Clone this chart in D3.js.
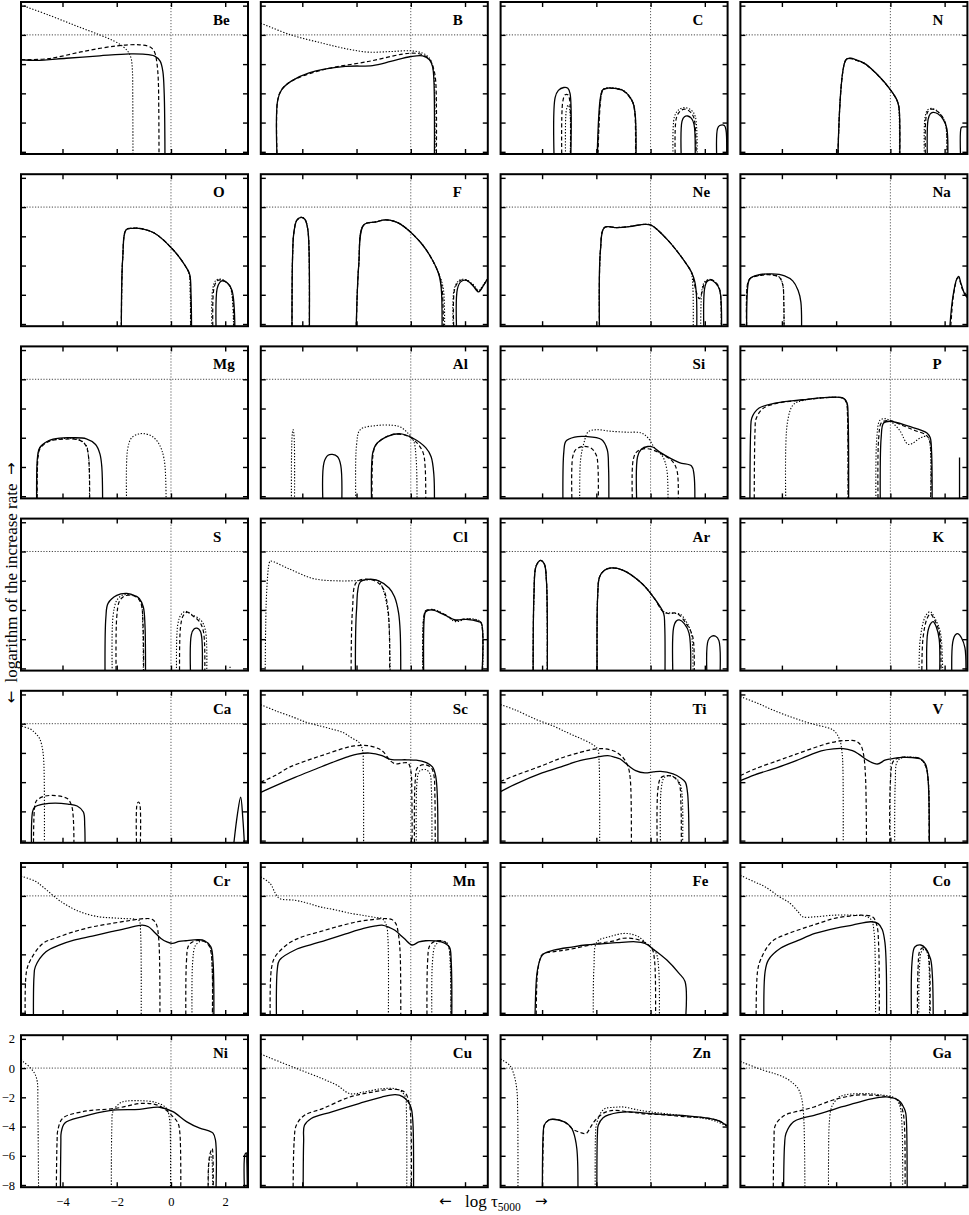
<!DOCTYPE html>
<html><head><meta charset="utf-8">
<script src="https://cdn.jsdelivr.net/npm/d3@7"></script>
<style>body{margin:0;background:#fff}svg{display:block}</style>
</head><body><svg id="c" width="969" height="1215"></svg>
<script>
const elements = ["Be","B","C","N","O","F","Ne","Na","Mg","Al","Si","P","S","Cl","Ar","K","Ca","Sc","Ti","V","Cr","Mn","Fe","Co","Ni","Cu","Zn","Ga"];
const xTicks = [-4,-2,0,2];
const yTicks = [2,0,-2,-4,-6,-8];
const xDomain = [-5.53, 2.84];
const yDomain = [-8.15, 2.25];

// solid curves: one entry per element, each a list of segments of [log tau, log rate]
const solidCurves = [
 [[[-5.53,-1.7],[-4.97,-1.75],[-3.86,-1.6],[-2.63,-1.43],[-1.53,-1.3],[-1.03,-1.32],[-0.6,-1.45],[-0.4,-1.8],[-0.3,-2.5],[-0.25,-4],[-0.23,-6],[-0.22,-9]]],
 [[[-4.92,-9],[-4.91,-4.5],[-4.76,-3.75],[-4.42,-3.18],[-3.75,-2.6],[-2.41,-2.16],[-1.41,-2.1],[-0.74,-1.82],[0,-1.48],[0.44,-1.43],[0.69,-1.7],[0.8,-2.16],[0.85,-3],[0.87,-9]]],
 [[[-3.55,-9],[-3.52,-4.3],[-3.4,-3.8],[-3.2,-3.6],[-3.05,-3.65],[-2.97,-4.0],[-2.95,-9]],
  [[-1.98,-9],[-1.85,-4.3],[-1.76,-3.75],[-1.6,-3.65],[-1.42,-3.64],[-1.0,-3.82],[-0.67,-4.55],[-0.57,-5.4],[-0.54,-9]],
  [[1.14,-9],[1.16,-5.9],[1.25,-5.6],[1.37,-5.55],[1.5,-5.7],[1.6,-6.1],[1.64,-9]],
  [[2.45,-9],[2.47,-6.4],[2.55,-6.2],[2.72,-6.2],[2.78,-6.5],[2.8,-9]]],
 [[[-1.94,-9],[-1.64,-1.7],[-1.45,-1.6],[-1.31,-1.68],[-0.97,-1.93],[-0.47,-2.73],[0,-3.75],[0.25,-4.5],[0.32,-5],[0.34,-9]],
  [[1.37,-9],[1.39,-5.8],[1.47,-5.4],[1.57,-5.3],[1.75,-5.4],[1.95,-5.8],[2.08,-6.4],[2.11,-9]],
  [[2.6,-9],[2.61,-6.35],[2.65,-6.3],[2.85,-6.3]]],
 [[[-1.83,-9],[-1.78,-3.5],[-1.65,-1.54],[-1.4,-1.45],[-1.19,-1.45],[-0.62,-1.77],[0.07,-2.9],[0.53,-4.03],[0.69,-4.6],[0.74,-6],[0.76,-9]],
  [[1.67,-9],[1.7,-5.6],[1.8,-5.15],[1.9,-5.04],[2.08,-5.2],[2.25,-5.7],[2.36,-9]]],
 [[[-4.38,-9],[-4.36,-3.5],[-4.31,-1.74],[-4.2,-0.9],[-4.04,-0.7],[-3.9,-0.85],[-3.8,-1.5],[-3.75,-3],[-3.74,-9]],
  [[-2.02,-9],[-1.92,-4],[-1.74,-1.24],[-1.3,-1.02],[-0.94,-0.88],[-0.6,-0.98],[-0.37,-1.18],[0.1,-1.9],[0.55,-2.87],[1.01,-4.46],[1.12,-5.5],[1.15,-9]],
  [[1.70,-9],[1.72,-5.6],[1.85,-5.1],[2.04,-5.0],[2.3,-5.4],[2.5,-5.8],[2.7,-5.3],[2.84,-4.9]]],
 [[[-1.88,-9],[-1.85,-3],[-1.7,-1.4],[-1.24,-1.4],[-0.78,-1.33],[-0.21,-1.18],[0.02,-1.24],[0.6,-2.19],[1.28,-3.78],[1.51,-4.46],[1.63,-5.1],[1.69,-6],[1.7,-9]],
  [[1.97,-9],[1.99,-5.6],[2.08,-5.1],[2.2,-4.98],[2.4,-5.2],[2.55,-5.7],[2.61,-9]]],
 [[[-5.3,-9],[-5.25,-5.3],[-5.18,-4.9],[-4.9,-4.65],[-4.38,-4.57],[-3.9,-4.7],[-3.6,-5.05],[-3.4,-5.7],[-3.3,-6.5],[-3.28,-9]],
  [[2.16,-9],[2.3,-6.2],[2.45,-4.9],[2.52,-4.75],[2.6,-5.2],[2.75,-6.0],[2.84,-6.2]]],
 [[[-4.95,-9],[-4.92,-5.3],[-4.84,-4.68],[-4.5,-4.19],[-4.1,-4.02],[-3.69,-4.0],[-3.12,-4.07],[-2.78,-4.46],[-2.62,-5.1],[-2.55,-6],[-2.52,-9]]],
 [[[-3.23,-9],[-3.2,-5.7],[-3.05,-5.2],[-2.89,-5.14],[-2.7,-5.3],[-2.58,-5.9],[-2.55,-9]],
  [[-1.44,-9],[-1.4,-5.0],[-1.28,-4.46],[-0.83,-3.89],[-0.37,-3.73],[0.05,-4.0],[0.55,-4.68],[0.75,-5.3],[0.85,-6.5],[0.87,-9]]],
 [[[-3.23,-9],[-3.2,-5.0],[-3.12,-4.23],[-2.8,-3.95],[-2.39,-3.91],[-1.81,-4.12],[-1.6,-4.8],[-1.55,-6],[-1.54,-9]],
  [[-0.5,-9],[-0.48,-5.3],[-0.35,-4.8],[-0.1,-4.6],[0.1,-4.65],[0.37,-5.02],[1.06,-5.7],[1.51,-5.93],[1.6,-6.5],[1.63,-9]]],
 [[[-5.18,-9],[-5.15,-3.5],[-5.11,-2.65],[-4.84,-1.97],[-4.2,-1.62],[-3.23,-1.4],[-2.32,-1.24],[-1.74,-1.29],[-1.6,-1.6],[-1.56,-2.5],[-1.54,-9]],
  [[-0.37,-9],[-0.34,-4],[-0.25,-2.99],[-0.02,-2.87],[0.67,-3.21],[1.35,-3.67],[1.47,-4.0],[1.52,-5],[1.54,-9]],
  [[2.55,-9],[2.55,-5.36]]],
 [[[-2.43,-9],[-2.4,-4.5],[-2.32,-3.55],[-2.0,-3.0],[-1.63,-2.87],[-1.3,-3.05],[-1.17,-3.21],[-1.02,-3.8],[-0.96,-5],[-0.94,-9]],
  [[0.73,-9],[0.75,-5.7],[0.85,-5.3],[0.96,-5.25],[1.08,-5.45],[1.14,-6],[1.15,-9]]],
 [[[-2.04,-9],[-2.0,-4],[-1.86,-2.08],[-1.51,-1.9],[-1.2,-2.0],[-0.8,-2.5],[-0.6,-3.1],[-0.45,-4.2],[-0.39,-5.5],[-0.37,-9]],
  [[0.48,-9],[0.5,-4.5],[0.55,-4.12],[0.78,-4.0],[1.24,-4.34],[1.65,-4.68],[2.04,-4.64],[2.5,-4.8],[2.6,-4.9],[2.61,-9]]],
 [[[-4.33,-9],[-4.3,-3],[-4.22,-1.0],[-4.06,-0.61],[-3.92,-0.85],[-3.84,-2],[-3.81,-9]],
  [[-1.97,-9],[-1.95,-3],[-1.88,-1.74],[-1.7,-1.29],[-1.47,-1.13],[-1.01,-1.29],[-0.32,-2.19],[0.14,-3.21],[0.48,-4.23],[0.52,-5],[0.53,-9]],
  [[0.83,-9],[0.85,-5.2],[0.95,-4.75],[1.06,-4.68],[1.25,-4.95],[1.42,-5.6],[1.47,-9]],
  [[2.09,-9],[2.12,-6.1],[2.25,-5.8],[2.4,-5.8],[2.52,-6.1],[2.55,-9]]],
 [[[1.35,-9],[1.38,-5.5],[1.5,-4.9],[1.58,-4.8],[1.7,-5.2],[1.8,-6],[1.81,-9]],
  [[2.27,-9],[2.3,-6.2],[2.4,-5.7],[2.5,-5.63],[2.62,-5.9],[2.75,-6.6],[2.78,-9]]],
 [[[-5.14,-9],[-5.1,-6],[-5.02,-5.7],[-4.7,-5.5],[-4.27,-5.43],[-3.8,-5.5],[-3.46,-5.63],[-3.23,-6.04],[-3.18,-7],[-3.17,-9]],
  [[2.27,-9],[2.45,-6.2],[2.57,-5.02],[2.65,-6.5],[2.73,-9]]],
 [[[-5.53,-4.7],[-5.0,-4.25],[-4.27,-3.67],[-3.5,-3.1],[-2.89,-2.65],[-2.3,-2.25],[-1.97,-2.08],[-1.51,-2.01],[-1.06,-2.19],[-0.75,-2.45],[-0.5,-2.47],[-0.14,-2.47],[0.2,-2.5],[0.55,-2.65],[0.8,-2.95],[0.92,-3.6],[0.98,-5],[1.0,-9]]],
 [[[-5.53,-4.65],[-5.0,-4.15],[-4.0,-3.37],[-3.3,-2.95],[-2.61,-2.53],[-2.0,-2.3],[-1.58,-2.19],[-1.3,-2.3],[-1.12,-2.42],[-0.8,-2.9],[-0.55,-3.21],[-0.21,-3.37],[0.1,-3.3],[0.37,-3.26],[0.83,-3.44],[1.1,-3.7],[1.28,-4.0],[1.36,-4.68],[1.4,-6],[1.42,-9]]],
 [[[-5.53,-3.9],[-5.0,-3.5],[-4.15,-2.99],[-3.3,-2.4],[-2.55,-1.86],[-2.1,-1.72],[-1.74,-1.7],[-1.4,-1.85],[-1.17,-2.08],[-0.8,-2.55],[-0.48,-2.76],[-0.2,-2.5],[-0.02,-2.42],[0.44,-2.31],[0.8,-2.32],[1.12,-2.42],[1.3,-2.8],[1.38,-3.6],[1.42,-5],[1.44,-9]]],
 [[[-5.07,-9],[-5.05,-5.5],[-5.0,-4.84],[-4.61,-3.82],[-4.1,-3.35],[-3.58,-3.02],[-2.9,-2.75],[-2.2,-2.45],[-1.6,-2.2],[-1.06,-2.0],[-0.83,-2.11],[-0.6,-2.5],[-0.37,-2.91],[-0.15,-3.15],[0.05,-3.25],[0.3,-3.12],[0.55,-3.07],[1.0,-3.0],[1.24,-3.07],[1.47,-3.48],[1.55,-4.5],[1.58,-9]]],
 [[[-4.95,-9],[-4.92,-5],[-4.84,-4.39],[-4.27,-3.7],[-3.7,-3.35],[-3.12,-3.02],[-2.4,-2.6],[-1.74,-2.23],[-1.3,-2.05],[-1.06,-2.0],[-0.8,-2.15],[-0.6,-2.34],[-0.25,-2.9],[0.05,-3.36],[0.3,-3.15],[0.55,-3.07],[0.9,-3.08],[1.12,-3.14],[1.42,-3.48],[1.49,-4.5],[1.51,-9]]],
 [[[-4.27,-9],[-4.22,-6],[-4.17,-5.07],[-3.99,-4.05],[-3.53,-3.7],[-2.9,-3.5],[-2.39,-3.36],[-1.8,-3.28],[-1.24,-3.2],[-0.55,-3.14],[-0.21,-3.25],[0.14,-3.7],[0.6,-4.39],[1.05,-5.3],[1.27,-5.86],[1.27,-9]]],
 [[[-4.66,-9],[-4.62,-5.2],[-4.5,-4.39],[-4.04,-3.57],[-3.4,-3.05],[-2.78,-2.57],[-2.0,-2.2],[-1.4,-2.0],[-0.71,-1.77],[-0.45,-1.9],[-0.3,-2.3],[-0.2,-3.2],[-0.15,-5],[-0.14,-9]],
  [[0.78,-9],[0.8,-4.5],[0.9,-3.5],[1.12,-3.36],[1.3,-3.6],[1.48,-4.3],[1.55,-5.5],[1.58,-9]]],
 [[[-4.08,-9],[-4.06,-5],[-4.05,-4.45],[-3.92,-3.77],[-3.25,-3.32],[-2.26,-2.91],[-1.16,-2.82],[-0.42,-2.68],[0.07,-2.98],[0.57,-3.66],[1.06,-4.11],[1.4,-4.3],[1.55,-4.45],[1.64,-4.91],[1.65,-9]],
  [[2.72,-9],[2.73,-5.9],[2.78,-5.8],[2.8,-6.5],[2.82,-9]]],
 [[[-3.97,-9],[-3.95,-5],[-3.92,-3.91],[-3.67,-3.45],[-2.91,-3.0],[-1.91,-2.43],[-1.07,-1.98],[-0.57,-1.82],[-0.3,-1.95],[-0.1,-2.3],[0.02,-2.77],[0.08,-3.8],[0.1,-9]]],
 [[[-3.99,-9],[-3.96,-4.5],[-3.92,-3.91],[-3.75,-3.55],[-3.6,-3.5],[-3.18,-3.68],[-2.95,-4.0],[-2.85,-4.36],[-2.72,-5.5],[-2.68,-9]],
  [[-1.98,-9],[-1.96,-4.5],[-1.93,-3.91],[-1.75,-3.4],[-1.51,-3.18],[-1.2,-3.05],[-0.84,-3.0],[0,-3.11],[0.7,-3.2],[1.34,-3.27],[2.18,-3.45],[2.5,-3.6],[2.84,-3.98]]],
 [[[-3.94,-9],[-3.9,-5.2],[-3.85,-4.48],[-3.57,-3.68],[-3.2,-3.4],[-2.81,-3.23],[-2.3,-2.95],[-1.81,-2.66],[-1.3,-2.4],[-0.8,-2.14],[-0.3,-1.98],[-0.05,-1.98],[0.2,-2.1],[0.37,-2.32],[0.52,-2.8],[0.57,-3.11],[0.6,-4],[0.62,-9]]]
];

const dashedCurves = [
 [[[-5.53,-1.7],[-4.5,-1.62],[-3.25,-1.14],[-2.0,-0.75],[-1.16,-0.68],[-0.75,-0.85],[-0.6,-1.2],[-0.52,-1.9],[-0.47,-3],[-0.45,-5],[-0.44,-9]]],
 [[[-4.92,-9],[-4.91,-4.5],[-4.76,-3.75],[-4.42,-3.18],[-3.25,-2.39],[-1.57,-1.82],[0,-1.25],[0.44,-1.36],[0.7,-1.7],[0.84,-2.3],[0.92,-3.2],[0.94,-9]]],
 [[[-3.27,-9],[-3.24,-4.6],[-3.15,-4.1],[-3.05,-4.1],[-2.98,-4.5],[-2.96,-9]],
  [[-1.95,-9],[-1.83,-4.3],[-1.74,-3.75],[-1.42,-3.66],[-1.0,-3.84],[-0.67,-4.58],[-0.58,-5.4],[-0.56,-9]],
  [[0.92,-9],[0.95,-5.7],[1.1,-5.2],[1.26,-5.08],[1.45,-5.25],[1.6,-5.7],[1.68,-9]]],
 [[[-1.94,-9],[-1.64,-1.72],[-1.45,-1.62],[-1.31,-1.7],[-0.97,-1.95],[-0.47,-2.75],[0,-3.77],[0.25,-4.5],[0.32,-5],[0.34,-9]],
  [[1.3,-9],[1.32,-5.6],[1.42,-5.15],[1.55,-5.08],[1.75,-5.25],[1.95,-5.7],[2.06,-6.3],[2.09,-9]]],
 [[[-1.83,-9],[-1.78,-3.5],[-1.65,-1.54],[-1.4,-1.45],[-1.19,-1.45],[-0.62,-1.77],[0.07,-2.9],[0.53,-4.03],[0.68,-4.6],[0.72,-6],[0.73,-9]],
  [[1.55,-9],[1.58,-5.6],[1.7,-5.05],[1.85,-4.98],[2.05,-5.15],[2.22,-5.6],[2.33,-9]]],
 [[[-4.38,-9],[-4.36,-3.5],[-4.31,-1.74],[-4.2,-0.9],[-4.04,-0.7],[-3.9,-0.85],[-3.8,-1.5],[-3.75,-3],[-3.74,-9]],
  [[-2.02,-9],[-1.92,-4],[-1.74,-1.24],[-1.3,-1.02],[-0.94,-0.88],[-0.6,-0.98],[-0.37,-1.18],[0.1,-1.9],[0.55,-2.87],[1.01,-4.46],[1.15,-5.5],[1.2,-9]],
  [[1.6,-9],[1.62,-5.6],[1.8,-5.05],[2.0,-4.98],[2.3,-5.35],[2.5,-5.75],[2.7,-5.3],[2.84,-4.9]]],
 [[[-1.88,-9],[-1.85,-3],[-1.7,-1.4],[-1.24,-1.4],[-0.78,-1.33],[-0.21,-1.18],[0.02,-1.24],[0.6,-2.19],[1.28,-3.78],[1.51,-4.46],[1.62,-5.3],[1.72,-6.0],[1.8,-6.27],[1.9,-5.8],[1.97,-5.3],[2.1,-5.0],[2.2,-4.95],[2.4,-5.15],[2.55,-5.65],[2.6,-9]]],
 [[[-5.29,-9],[-5.26,-5.2],[-5.15,-4.85],[-4.8,-4.68],[-4.5,-4.62],[-4.1,-4.8],[-3.97,-5.3],[-3.93,-6.5],[-3.92,-9]],
  [[2.2,-9],[2.33,-6.0],[2.48,-4.85],[2.55,-5.0],[2.65,-5.6],[2.84,-6.1]]],
 [[[-4.93,-9],[-4.9,-5.3],[-4.82,-4.72],[-4.5,-4.25],[-4.0,-4.1],[-3.4,-4.15],[-3.15,-4.5],[-3.04,-5.3],[-3.0,-9]]],
 [[[-1.42,-9],[-1.38,-5.0],[-1.25,-4.4],[-0.8,-3.85],[-0.45,-3.75],[-0.1,-3.9],[0.2,-4.3],[0.45,-5.0],[0.53,-6],[0.55,-9]]],
 [[[-2.89,-9],[-2.87,-5.3],[-2.75,-4.8],[-2.5,-4.6],[-2.2,-4.7],[-2.0,-5.2],[-1.94,-6],[-1.93,-9]],
  [[-0.66,-9],[-0.64,-5.5],[-0.5,-4.95],[-0.2,-4.75],[0.1,-4.85],[0.4,-5.1],[0.8,-5.6],[0.98,-6.3],[1.01,-9]]],
 [[[-5.02,-9],[-4.99,-3.5],[-4.95,-2.7],[-4.7,-2.0],[-4.2,-1.65],[-3.23,-1.42],[-2.32,-1.25],[-1.74,-1.3],[-1.62,-1.6],[-1.58,-2.5],[-1.56,-9]],
  [[-0.45,-9],[-0.43,-4],[-0.32,-2.95],[-0.02,-2.83],[0.5,-3.2],[0.9,-3.5],[1.3,-3.8],[1.45,-4.2],[1.47,-9]]],
 [[[-2.02,-9],[-2.0,-4.5],[-1.9,-3.4],[-1.72,-3.05],[-1.51,-2.99],[-1.25,-3.15],[-1.1,-3.6],[-1.03,-5],[-1.01,-9]],
  [[0.32,-9],[0.35,-5.2],[0.45,-4.4],[0.6,-4.15],[0.8,-4.4],[1.05,-4.8],[1.2,-5.5],[1.24,-9]]],
 [[[-2.2,-9],[-2.15,-4],[-2.0,-2.1],[-1.55,-1.9],[-1.2,-2.15],[-1.0,-2.6],[-0.85,-3.8],[-0.79,-5.5],[-0.78,-9]],
  [[0.46,-9],[0.48,-4.5],[0.55,-4.05],[0.78,-3.98],[1.24,-4.3],[1.65,-4.72],[2.04,-4.6],[2.5,-4.75],[2.6,-4.9],[2.62,-9]]],
 [[[-4.33,-9],[-4.3,-3],[-4.22,-1.0],[-4.06,-0.61],[-3.92,-0.85],[-3.84,-2],[-3.81,-9]],
  [[-1.97,-9],[-1.95,-3],[-1.88,-1.74],[-1.7,-1.29],[-1.47,-1.13],[-1.01,-1.29],[-0.32,-2.19],[0.14,-3.21],[0.48,-4.15],[0.7,-4.25],[0.9,-4.2],[1.06,-4.35],[1.3,-4.9],[1.55,-5.8],[1.6,-9]]],
 [[[1.16,-9],[1.2,-6.0],[1.35,-4.6],[1.47,-4.28],[1.65,-4.75],[1.82,-5.7],[1.86,-9]]],
 [[[-5.07,-9],[-5.02,-5.6],[-4.95,-5.25],[-4.7,-4.98],[-4.38,-4.91],[-4.0,-5.0],[-3.81,-5.14],[-3.65,-5.7],[-3.58,-9]],
  [[-1.26,-9],[-1.25,-5.5],[-1.2,-5.36],[-1.15,-5.5],[-1.14,-9]]],
 [[[-5.53,-4.0],[-5.0,-3.55],[-4.5,-3.0],[-3.8,-2.5],[-3.12,-2.08],[-2.5,-1.7],[-2.09,-1.52],[-1.6,-1.5],[-1.2,-1.7],[-1.0,-1.95],[-0.75,-2.55],[-0.55,-2.75],[-0.3,-2.68],[-0.1,-2.7],[0.0,-3.2],[0.04,-5],[0.05,-9]],
  [[0.14,-9],[0.16,-4],[0.25,-3.0],[0.5,-2.8],[0.75,-3.0],[0.85,-3.5],[0.89,-5],[0.9,-9]]],
 [[[-5.53,-3.95],[-5.0,-3.55],[-4.0,-2.87],[-3.3,-2.35],[-2.61,-1.97],[-2.2,-1.78],[-1.81,-1.7],[-1.5,-1.78],[-1.24,-1.97],[-0.98,-2.4],[-0.82,-3.0],[-0.74,-4],[-0.71,-9]],
  [[0.25,-9],[0.27,-4.5],[0.38,-3.7],[0.6,-3.55],[0.85,-3.65],[1.05,-4.1],[1.12,-5.5],[1.13,-9]]],
 [[[-5.53,-3.55],[-5.0,-3.1],[-4.15,-2.53],[-3.5,-2.1],[-2.78,-1.63],[-2.3,-1.35],[-1.86,-1.18],[-1.5,-1.15],[-1.28,-1.18],[-1.1,-1.45],[-1.0,-2.0],[-0.92,-3.5],[-0.88,-9]],
  [[-0.02,-9],[0.0,-4],[0.1,-2.6],[0.32,-2.33],[0.8,-2.3],[1.1,-2.4],[1.3,-2.9],[1.4,-4],[1.42,-9]]],
 [[[-5.37,-9],[-5.33,-5.2],[-5.18,-4.39],[-4.72,-3.25],[-4.2,-2.85],[-3.58,-2.45],[-2.9,-2.12],[-2.2,-1.89],[-1.5,-1.68],[-0.94,-1.55],[-0.7,-1.6],[-0.55,-1.9],[-0.45,-3],[-0.41,-9]],
  [[0.55,-9],[0.57,-4.5],[0.65,-3.4],[0.85,-3.1],[1.2,-3.1],[1.4,-3.4],[1.5,-4.2],[1.52,-9]]],
 [[[-5.18,-9],[-5.14,-5],[-5.0,-4.16],[-4.5,-3.25],[-4.0,-2.8],[-3.35,-2.45],[-2.6,-2.05],[-1.97,-1.77],[-1.4,-1.62],[-0.94,-1.55],[-0.7,-1.62],[-0.55,-1.9],[-0.45,-2.7],[-0.39,-4],[-0.37,-9]],
  [[0.6,-9],[0.62,-4.5],[0.7,-3.4],[0.9,-3.1],[1.2,-3.1],[1.38,-3.4],[1.46,-4.2],[1.48,-9]]],
 [[[-4.22,-9],[-4.18,-5.5],[-4.1,-4.5],[-3.99,-4.0],[-3.5,-3.8],[-3.05,-3.68],[-1.93,-3.25],[-1.4,-3.1],[-1.0,-2.9],[-0.55,-2.95],[-0.2,-3.2],[0.05,-3.6],[0.15,-4.5],[0.18,-9]]],
 [[[-4.95,-9],[-4.9,-5.2],[-4.79,-4.39],[-4.38,-3.14],[-3.8,-2.6],[-3.23,-2.23],[-2.6,-1.85],[-2.09,-1.55],[-1.5,-1.38],[-1.06,-1.32],[-0.65,-1.45],[-0.5,-2.0],[-0.43,-3.5],[-0.41,-9]],
  [[1.0,-9],[1.02,-5],[1.1,-3.7],[1.25,-3.55],[1.38,-3.9],[1.45,-5],[1.46,-9]]],
 [[[-4.23,-9],[-4.2,-5],[-4.17,-4.23],[-3.99,-3.43],[-3.25,-2.98],[-2.02,-2.75],[-1.03,-2.41],[-0.42,-2.59],[0.07,-3.32],[0.26,-3.77],[0.33,-4.5],[0.36,-9]],
  [[1.37,-9],[1.39,-6.5],[1.45,-5.8],[1.52,-5.5],[1.55,-6.2],[1.56,-9]]],
 [[[-4.34,-9],[-4.3,-5],[-4.22,-3.91],[-3.92,-3.23],[-3.25,-2.77],[-2.25,-1.98],[-1.41,-1.64],[-0.74,-1.45],[-0.4,-1.5],[-0.2,-1.7],[-0.05,-2.5],[0.01,-4],[0.02,-9]]],
 [[[-3.99,-9],[-3.95,-4.5],[-3.92,-3.91],[-3.75,-3.55],[-3.6,-3.5],[-3.18,-3.68],[-2.85,-4.2],[-2.6,-4.4],[-2.38,-4.48],[-2.2,-4.0],[-2.04,-3.57],[-1.7,-3.05],[-1.34,-2.89],[-0.8,-3.0],[-0.34,-3.11],[0.5,-3.2],[1.34,-3.34],[2.0,-3.4],[2.5,-3.6],[2.84,-3.95]]],
 [[[-4.32,-9],[-4.29,-5],[-4.24,-3.91],[-3.9,-3.23],[-3.4,-2.95],[-2.81,-2.66],[-2.14,-2.2],[-1.31,-1.86],[-0.7,-1.85],[-0.3,-1.91],[0.1,-2.05],[0.28,-2.2],[0.45,-2.9],[0.52,-4],[0.54,-9]]]
];

const dottedCurves = [
 [[[-5.53,2.05],[-4.5,1.35],[-3.5,0.62],[-2.63,0],[-2.1,-0.42],[-1.77,-0.8],[-1.58,-1.15],[-1.47,-1.6],[-1.42,-2.5],[-1.41,-4],[-1.40,-9]]],
 [[[-5.53,0.8],[-4.42,0],[-3.25,-0.57],[-2.3,-0.98],[-1.57,-1.18],[-0.74,-1.14],[0,-1.09],[0.44,-1.25],[0.69,-1.6],[0.8,-2.1],[0.87,-3.2],[0.89,-9]]],
 [[[-3.13,-9],[-3.11,-5.2],[-3.04,-4.8],[-2.98,-5.1],[-2.97,-9]],
  [[-1.96,-9],[-1.84,-4.3],[-1.75,-3.73],[-1.42,-3.62],[-1.0,-3.8],[-0.67,-4.53],[-0.57,-5.4],[-0.55,-9]],
  [[0.84,-9],[0.88,-5.6],[1.05,-5.1],[1.26,-4.98],[1.5,-5.15],[1.65,-5.6],[1.71,-9]]],
 [[[-1.94,-9],[-1.64,-1.7],[-1.45,-1.6],[-1.31,-1.68],[-0.97,-1.93],[-0.47,-2.73],[0,-3.75],[0.25,-4.5],[0.31,-5],[0.33,-9]],
  [[1.26,-9],[1.28,-5.6],[1.38,-5.12],[1.52,-5.03],[1.72,-5.2],[1.93,-5.65],[2.05,-6.3],[2.08,-9]]],
 [[[-1.83,-9],[-1.78,-3.5],[-1.65,-1.54],[-1.4,-1.45],[-1.19,-1.45],[-0.62,-1.77],[0.07,-2.9],[0.53,-4.03],[0.67,-4.6],[0.71,-6],[0.72,-9]],
  [[1.51,-9],[1.54,-5.6],[1.66,-5.0],[1.82,-4.92],[2.02,-5.1],[2.2,-5.55],[2.31,-9]]],
 [[[-4.38,-9],[-4.36,-3.5],[-4.31,-1.74],[-4.2,-0.9],[-4.04,-0.7],[-3.9,-0.85],[-3.8,-1.5],[-3.75,-3],[-3.74,-9]],
  [[-2.02,-9],[-1.92,-4],[-1.74,-1.24],[-1.3,-1.02],[-0.94,-0.88],[-0.6,-0.98],[-0.37,-1.18],[0.1,-1.9],[0.55,-2.87],[1.01,-4.46],[1.2,-5.6],[1.24,-9]],
  [[1.58,-9],[1.6,-5.6],[1.78,-5.02],[2.0,-4.95],[2.3,-5.3],[2.5,-5.7],[2.7,-5.25],[2.84,-4.85]]],
 [[[-1.88,-9],[-1.85,-3],[-1.7,-1.4],[-1.24,-1.4],[-0.78,-1.33],[-0.21,-1.18],[0.02,-1.24],[0.6,-2.19],[1.28,-3.78],[1.5,-4.5],[1.56,-5.5],[1.57,-9]],
  [[1.85,-9],[1.9,-5.6],[2.0,-5.1],[2.2,-4.95],[2.4,-5.2],[2.55,-5.7],[2.6,-9]]],
 [[[-5.29,-9],[-5.26,-5.2],[-5.15,-4.85],[-4.8,-4.66],[-4.5,-4.6],[-4.1,-4.78],[-3.97,-5.3],[-3.93,-6.5],[-3.92,-9]]],
 [[[-4.94,-9],[-4.91,-5.3],[-4.83,-4.7],[-4.5,-4.22],[-4.0,-4.06],[-3.5,-4.08],[-3.15,-4.45],[-3.04,-5.3],[-3.01,-9]],
  [[-1.63,-9],[-1.6,-4.8],[-1.45,-4.0],[-1.2,-3.75],[-1.0,-3.72],[-0.7,-3.9],[-0.45,-4.4],[-0.25,-5.5],[-0.18,-9]]],
 [[[-4.4,-9],[-4.38,-4],[-4.34,-3.44],[-4.3,-4],[-4.29,-9]],
  [[-2.02,-9],[-2.0,-4.5],[-1.86,-3.44],[-1.28,-3.17],[-0.71,-3.14],[-0.4,-3.25],[-0.15,-3.6],[0.1,-4.2],[0.2,-5.5],[0.23,-9]]],
 [[[-2.61,-9],[-2.58,-5.5],[-2.45,-4.3],[-2.3,-3.6],[-2.0,-3.45],[-1.5,-3.55],[-0.9,-3.62],[-0.35,-3.67],[-0.1,-4.0],[0.15,-4.7],[0.45,-5.3],[0.6,-6.2],[0.64,-9]]],
 [[[-3.85,-9],[-3.8,-3],[-3.58,-1.74],[-3.23,-1.45],[-2.32,-1.25],[-1.74,-1.3],[-1.62,-1.6],[-1.58,-2.5],[-1.56,-9]],
  [[-0.53,-9],[-0.5,-4],[-0.38,-2.8],[-0.14,-2.71],[0.32,-3.44],[0.67,-4.46],[1.12,-4.0],[1.35,-3.9],[1.45,-4.3],[1.47,-9]]],
 [[[-2.16,-9],[-2.14,-4.5],[-2.0,-3.35],[-1.8,-3.0],[-1.55,-2.95],[-1.25,-3.1],[-1.1,-3.5],[-1.04,-5],[-1.02,-9]],
  [[0.21,-9],[0.25,-5.0],[0.38,-4.3],[0.55,-4.1],[0.75,-4.3],[1.1,-4.7],[1.27,-5.4],[1.31,-9]],
  [[2.16,-9],[2.18,-7.8]]],
 [[[-5.37,-9],[-5.32,-3],[-5.22,-0.8],[-5.18,-0.66],[-4.5,-1.18],[-3.58,-1.86],[-2.66,-2.01],[-1.74,-1.97],[-1.4,-1.92],[-1.2,-2.0],[-1.06,-2.4],[-0.9,-3.5],[-0.8,-5],[-0.76,-9]],
  [[0.45,-9],[0.47,-4.6],[0.55,-4.1],[0.78,-3.95],[1.24,-4.3],[1.65,-4.8],[2.04,-4.62],[2.5,-4.7],[2.62,-5],[2.63,-9]]],
 [[[-4.33,-9],[-4.3,-3],[-4.22,-1.0],[-4.06,-0.61],[-3.92,-0.85],[-3.84,-2],[-3.81,-9]],
  [[-1.97,-9],[-1.95,-3],[-1.88,-1.74],[-1.7,-1.29],[-1.47,-1.13],[-1.01,-1.29],[-0.32,-2.19],[0.14,-3.21],[0.48,-4.1],[0.83,-4.23],[1.1,-4.3],[1.3,-4.75],[1.5,-5.6],[1.56,-9]]],
 [[[1.06,-9],[1.1,-6.0],[1.3,-4.4],[1.47,-4.12],[1.65,-4.6],[1.85,-5.6],[1.93,-9]]],
 [[[-5.53,0.05],[-5.48,-0.16],[-5.2,-0.35],[-5.0,-0.65],[-4.85,-1.0],[-4.75,-1.6],[-4.69,-2.6],[-4.67,-9]]],
 [[[-5.53,1.3],[-4.95,0.86],[-4.3,0.42],[-3.81,0.07],[-3.3,-0.18],[-2.89,-0.38],[-2.5,-0.6],[-2.2,-0.95],[-1.9,-1.3],[-1.78,-1.8],[-1.75,-3],[-1.74,-9]],
  [[0.21,-9],[0.23,-4],[0.32,-3.25],[0.55,-3.14],[0.7,-3.4],[0.76,-4.5],[0.78,-9]]],
 [[[-5.53,1.3],[-5.0,0.95],[-4.22,0.29],[-3.6,-0.15],[-3.07,-0.61],[-2.6,-1.0],[-2.16,-1.4],[-1.95,-1.74],[-1.9,-2.5],[-1.88,-9]],
  [[0.37,-9],[0.39,-4.5],[0.5,-3.7],[0.71,-3.55],[0.95,-3.75],[1.12,-4.3],[1.17,-9]]],
 [[[-5.53,1.85],[-4.9,1.4],[-4.38,0.97],[-3.8,0.55],[-3.23,0.18],[-2.7,-0.1],[-2.32,-0.27],[-2.1,-0.45],[-1.97,-0.72],[-1.85,-1.2],[-1.78,-2.0],[-1.75,-3],[-1.74,-9]],
  [[0.16,-9],[0.18,-4],[0.25,-2.6],[0.45,-2.32],[0.8,-2.3],[1.1,-2.4],[1.3,-2.9],[1.4,-4],[1.43,-9]]],
 [[[-5.53,1.35],[-5.0,1.0],[-4.72,0.61],[-4.04,-0.41],[-3.35,-1.09],[-2.66,-1.43],[-2.2,-1.5],[-1.74,-1.55],[-1.3,-1.6],[-1.17,-1.7],[-1.12,-2.5],[-1.1,-9]],
  [[0.78,-9],[0.8,-4.5],[0.9,-3.4],[1.1,-3.1],[1.3,-3.15],[1.45,-3.5],[1.52,-5],[1.54,-9]]],
 [[[-5.53,1.3],[-5.18,0.84],[-5.0,0.2],[-4.84,-0.18],[-4.27,-0.3],[-3.8,-0.5],[-3.35,-0.75],[-2.8,-0.95],[-2.2,-1.2],[-1.7,-1.35],[-1.28,-1.48],[-1.06,-1.55],[-0.9,-2],[-0.84,-3],[-0.83,-9]],
  [[0.78,-9],[0.8,-4.5],[0.9,-3.4],[1.1,-3.1],[1.3,-3.15],[1.4,-3.5],[1.46,-5],[1.48,-9]]],
 [[[-2.11,-9],[-2.09,-5],[-1.97,-3.14],[-1.47,-2.77],[-1.0,-2.57],[-0.7,-2.62],[-0.44,-2.8],[-0.09,-3.36],[0.2,-3.9],[0.3,-5],[0.32,-9]]],
 [[[-5.53,1.4],[-5.0,0.95],[-4.61,0.61],[-4.1,-0.05],[-3.69,-0.52],[-3.4,-1.1],[-3.23,-1.43],[-2.78,-1.43],[-2.09,-1.32],[-1.4,-1.32],[-0.9,-1.4],[-0.7,-1.65],[-0.6,-2.5],[-0.55,-9]],
  [[1.05,-9],[1.07,-5],[1.15,-3.8],[1.28,-3.65],[1.38,-4],[1.43,-5],[1.44,-9]]],
 [[[-5.53,0.6],[-5.44,0.43],[-5.22,0.09],[-5.03,-0.36],[-4.93,-0.93],[-4.91,-2.41],[-4.88,-9]],
  [[-2.2,-9],[-2.18,-4],[-2.14,-2.98],[-1.95,-2.5],[-1.77,-2.3],[-1.16,-2.23],[-0.54,-2.36],[-0.17,-2.75],[-0.05,-3.55],[-0.02,-5],[-0.02,-9]],
  [[1.38,-9],[1.4,-6.5],[1.48,-5.9],[1.52,-6.5],[1.53,-9]]],
 [[[-5.53,0.98],[-5.46,0.91],[-4.25,0],[-3.25,-0.73],[-2.7,-1.2],[-2.25,-1.75],[-1.74,-1.64],[-1.07,-1.41],[-0.6,-1.4],[-0.4,-1.52],[-0.2,-1.98],[-0.16,-3],[-0.15,-9]]],
 [[[-5.53,0.62],[-5.44,0.52],[-5.19,0.18],[-5.03,-0.5],[-4.93,-1.5],[-4.9,-3],[-4.89,-9]],
  [[-2.04,-9],[-2.03,-4.5],[-2.0,-3.9],[-1.85,-3.1],[-1.68,-2.77],[-1.3,-2.68],[-1.01,-2.66],[-0.5,-2.85],[0,-3.0],[0.7,-3.15],[1.34,-3.3],[2.0,-3.45],[2.5,-3.7],[2.84,-4.0]]],
 [[[-5.53,0.45],[-5.41,0.36],[-4.66,-0.16],[-4.2,-0.42],[-3.82,-0.73],[-3.55,-1.1],[-3.4,-1.41],[-3.28,-2.0],[-3.2,-3.2],[-3.15,-9]],
  [[-2.28,-9],[-2.26,-4],[-2.2,-2.9],[-2.14,-2.55],[-1.9,-2.0],[-1.64,-1.82],[-0.8,-1.75],[-0.3,-1.85],[-0.05,-1.91],[0.2,-2.1],[0.35,-2.6],[0.43,-4],[0.45,-9]]]
];

const svg = d3.select('#c');
const W = 227, H = 152;
const colStep = 239.8, rowStep = 172.2, left0 = 21, top0 = 2;
const x = d3.scaleLinear().domain(xDomain).range([0, W]);
const y = d3.scaleLinear().domain(yDomain).range([H, 0]);
const line = d3.line().x(d => x(d[0])).y(d => y(d[1])).curve(d3.curveCatmullRom.alpha(0.5));
const FONT = "'Liberation Serif','Times New Roman',serif";
const ARROWFONT = "'DejaVu Sans',sans-serif";

const styles = [
  {data: dottedCurves, w: 1.1, dash: "1.3,1.7"},
  {data: dashedCurves, w: 1.2, dash: "4,2.5"},
  {data: solidCurves, w: 1.3, dash: null}
];

elements.forEach((name, i) => {
  const r = Math.floor(i / 4), c = i % 4;
  const g = svg.append('g').attr('transform', `translate(${left0 + colStep * c},${top0 + rowStep * r})`);
  g.append('clipPath').attr('id', 'cp' + i).append('rect').attr('width', W).attr('height', H);
  g.append('line').attr('x1', 0).attr('x2', W).attr('y1', y(0)).attr('y2', y(0))
    .attr('stroke', '#333').attr('stroke-width', 0.9).attr('stroke-dasharray', '1.2,1.6');
  g.append('line').attr('x1', x(0)).attr('x2', x(0)).attr('y1', 0).attr('y2', H)
    .attr('stroke', '#333').attr('stroke-width', 0.8).attr('stroke-dasharray', '1.2,1.8');
  const cg = g.append('g').attr('clip-path', `url(#cp${i})`);
  styles.forEach(s => {
    (s.data[i] || []).forEach(seg => {
      cg.append('path').attr('d', line(seg)).attr('fill', 'none').attr('stroke', '#000')
        .attr('stroke-width', s.w).attr('stroke-dasharray', s.dash)
        .attr('stroke-linejoin', 'round');
    });
  });
  const showLabels = (i === 24);
  const axB = d3.axisBottom(x).tickValues(xTicks).tickSize(-5).tickPadding(10)
    .tickFormat(showLabels ? d3.format('d') : () => '');
  const axT = d3.axisTop(x).tickValues(xTicks).tickSize(-5).tickFormat(() => '');
  const axL = d3.axisLeft(y).tickValues(yTicks).tickSize(-5).tickPadding(6)
    .tickFormat(showLabels ? d3.format('d') : () => '');
  const axR = d3.axisRight(y).tickValues(yTicks).tickSize(-5).tickFormat(() => '');
  [[axB, `translate(0,${H})`], [axT, 'translate(0,0)'], [axL, 'translate(0,0)'], [axR, `translate(${W},0)`]]
    .forEach(([ax, tr]) => {
      const a = g.append('g').attr('transform', tr).call(ax);
      a.select('.domain').remove();
      a.selectAll('line').attr('stroke', '#000').attr('stroke-width', 1.4);
      a.selectAll('text').attr('font-family', FONT).attr('font-size', 12.5).attr('fill', '#000');
    });
  g.append('rect').attr('width', W).attr('height', H).attr('fill', 'none')
    .attr('stroke', '#000').attr('stroke-width', 2);
  g.append('text').attr('x', 192).attr('y', 23).text(name)
    .attr('font-family', FONT).attr('font-weight', 'bold').attr('font-size', 15);
});

// y axis title (rotated)
const yt = svg.append('g').attr('transform', 'translate(17,583) rotate(-90)')
  .attr('font-family', FONT).attr('font-size', 17).attr('fill', '#000');
yt.append('text').attr('x', 0).attr('text-anchor', 'middle').text('logarithm of the increase rate');
yt.append('text').attr('x', -108).attr('y', -1).attr('text-anchor', 'end')
  .attr('font-family', ARROWFONT).attr('font-size', 15).text('\u2190');
yt.append('text').attr('x', 108).attr('y', -1).attr('text-anchor', 'start')
  .attr('font-family', ARROWFONT).attr('font-size', 15).text('\u2192');

// x axis title
const xg = svg.append('g').attr('font-family', FONT).attr('fill', '#000');
xg.append('text').attr('x', 439).attr('y', 1206).attr('font-family', ARROWFONT).attr('font-size', 15).text('\u2190');
const xt = xg.append('text').attr('x', 465).attr('y', 1207).attr('font-size', 17);
xt.append('tspan').text('log \u03c4');
xt.append('tspan').attr('font-size', 11.5).attr('dy', 4).text('5000');
xg.append('text').attr('x', 535).attr('y', 1206).attr('font-family', ARROWFONT).attr('font-size', 15).text('\u2192');
</script>
</body></html>
